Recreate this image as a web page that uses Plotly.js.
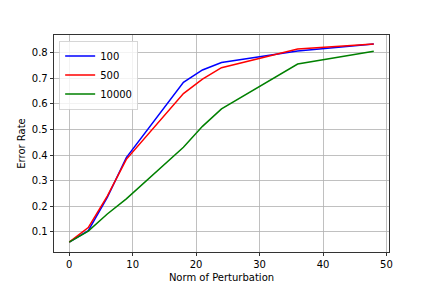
<!DOCTYPE html>
<html>
<head>
<meta charset="utf-8">
<script src="https://cdn.plot.ly/plotly-3.0.1.min.js"></script>
<style>html,body{margin:0;padding:0;background:#fff;}#chart{width:432px;height:288px;}</style>
</head>
<body>
<div id="chart"></div>
<script>
const perturbation = [0, 3, 6, 9, 18, 21, 24, 36, 48];
const err100 = [0.06, 0.105, 0.235, 0.39, 0.684, 0.732, 0.761, 0.806, 0.833];
const err500 = [0.06, 0.117, 0.24, 0.383, 0.64, 0.696, 0.741, 0.814, 0.833];
const err10000 = [0.06, 0.103, 0.17, 0.229, 0.43, 0.512, 0.58, 0.755, 0.805];
const seriesNames = ['100', '500', '10000'];
const seriesColors = ['#0000ff', '#ff0000', '#008000'];
const xTicks = [0, 10, 20, 30, 40, 50];
const yTicks = [0.1, 0.2, 0.3, 0.4, 0.5, 0.6, 0.7, 0.8];

const ys = [err100, err500, err10000];
const traces = ys.map((y, i) => ({
  x: perturbation, y: y, type: 'scatter', mode: 'lines',
  name: seriesNames[i], line: {color: seriesColors[i], width: 1.5}
}));

const axisBase = {
  showgrid: true, gridcolor: '#b0b0b0', gridwidth: 0.8,
  zeroline: false, showline: true, linecolor: '#000', linewidth: 0.8, mirror: true,
  ticks: 'outside', ticklen: 3.5, tickwidth: 0.8, tickcolor: '#000',
  tickfont: {family: 'DejaVu Sans', size: 10, color: '#000'}
};

const layout = {
  width: 432, height: 288,
  margin: {l: 54, r: 42.7, t: 35, b: 36.3},
  paper_bgcolor: '#fff', plot_bgcolor: '#fff',
  font: {family: 'DejaVu Sans', size: 10, color: '#000'},
  showlegend: true,
  legend: {
    x: 0.016, y: 0.974, xanchor: 'left', yanchor: 'top',
    bgcolor: 'rgba(255,255,255,0.8)', bordercolor: '#cccccc', borderwidth: 0.8,
    font: {family: 'DejaVu Sans', size: 10, color: '#000'},
    tracegroupgap: 0
  },
  xaxis: Object.assign({}, axisBase, {
    range: [-2.4, 50.4], tickmode: 'array', tickvals: xTicks, ticktext: xTicks.map(String),
    title: {text: 'Norm of Perturbation', font: {family: 'DejaVu Sans', size: 10, color: '#000'}, standoff: 4}
  }),
  yaxis: Object.assign({}, axisBase, {
    range: [0.0215, 0.8685], tickmode: 'array', tickvals: yTicks, ticktext: yTicks.map(v => v.toFixed(1)),
    title: {text: 'Error Rate', font: {family: 'DejaVu Sans', size: 10, color: '#000'}, standoff: 4}
  })
};

Plotly.newPlot('chart', traces, layout, {staticPlot: true, displayModeBar: false});
</script>
</body>
</html>
